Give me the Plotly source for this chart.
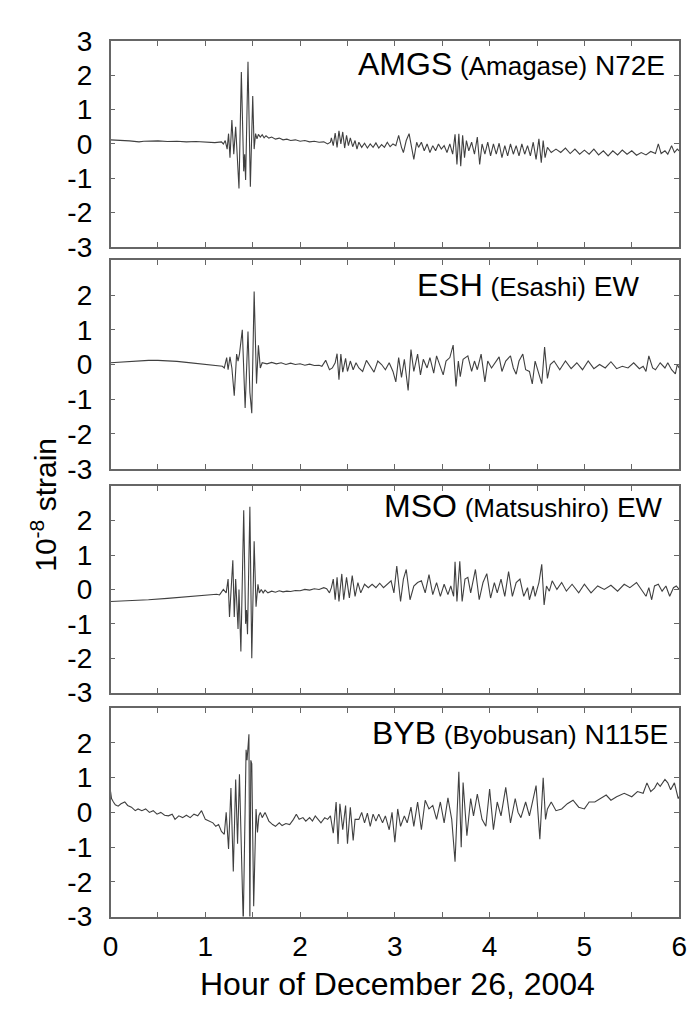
import plotly.graph_objects as go

# ---------------- data (hour, 1e-8 strain) ----------------
amgs_pts = [
    (0.0, 0.12), (0.1, 0.11), (0.2, 0.09), (0.3, 0.06), (0.35, 0.08), (0.5, 0.09), (0.6, 0.07),
    (0.7, 0.08), (0.8, 0.06), (0.9, 0.07), (1.0, 0.05), (1.1, 0.04), (1.17, 0.06), (1.19, 0.0),
    (1.21, 0.1), (1.23, -0.15), (1.245, 0.3), (1.26, -0.4), (1.28, 0.7), (1.30, -0.3), (1.32, 0.5),
    (1.355, -1.3), (1.38, 2.1), (1.405, -0.8), (1.415, -0.3), (1.425, -1.05), (1.45, 2.4),
    (1.475, -1.25), (1.50, 1.4), (1.515, -0.15), (1.53, 0.3), (1.545, 0.15), (1.56, 0.28),
    (1.58, 0.2), (1.60, 0.27), (1.62, 0.18), (1.64, 0.24), (1.67, 0.17), (1.70, 0.2), (1.74, 0.14),
    (1.78, 0.17), (1.82, 0.12), (1.86, 0.14), (1.9, 0.1), (1.95, 0.12), (2.0, 0.08), (2.05, 0.1),
    (2.1, 0.06), (2.15, 0.08), (2.2, 0.05), (2.25, 0.06), (2.29, 0.0), (2.32, 0.05),
    (2.33, 0.18), (2.35, -0.05), (2.37, 0.32), (2.39, -0.1), (2.41, 0.38), (2.43, 0.0), (2.45, 0.35),
    (2.47, -0.12), (2.49, 0.25), (2.51, -0.05), (2.53, 0.18), (2.555, -0.08), (2.58, 0.1),
    (2.60, -0.15), (2.62, 0.05), (2.65, -0.1), (2.68, 0.02), (2.71, -0.12), (2.74, 0.0), (2.77, -0.1),
    (2.80, 0.03), (2.83, -0.12), (2.86, -0.02), (2.89, -0.1), (2.92, 0.05), (2.95, -0.08), (2.98, 0.0),
    (3.01, -0.05), (3.04, 0.25), (3.07, -0.1), (3.09, -0.25), (3.12, 0.1), (3.15, 0.3), (3.18, -0.15),
    (3.20, -0.45), (3.23, 0.05), (3.25, -0.1), (3.28, 0.05), (3.31, -0.2), (3.34, 0.0), (3.37, -0.25),
    (3.40, -0.05), (3.43, -0.2), (3.46, 0.0), (3.49, -0.15), (3.52, -0.05), (3.55, -0.25), (3.58, 0.0),
    (3.61, -0.3), (3.635, 0.28), (3.655, -0.6), (3.675, 0.3), (3.695, -0.65), (3.715, 0.25),
    (3.735, -0.4), (3.755, 0.1), (3.78, -0.2), (3.81, 0.05), (3.84, -0.3), (3.87, 0.2), (3.895, -0.6),
    (3.92, 0.0), (3.95, -0.3), (3.98, 0.05), (4.01, -0.35), (4.04, 0.0), (4.07, -0.3), (4.10, 0.02),
    (4.13, -0.4), (4.16, -0.05), (4.19, -0.35), (4.22, 0.0), (4.25, -0.3), (4.28, -0.05), (4.31, -0.35),
    (4.34, 0.0), (4.37, -0.3), (4.40, -0.05), (4.43, -0.35), (4.46, 0.05), (4.49, -0.45), (4.52, 0.15),
    (4.545, -0.55), (4.565, 0.1), (4.585, -0.4), (4.61, -0.1), (4.65, -0.25), (4.70, -0.15),
    (4.75, -0.25), (4.80, -0.12), (4.85, -0.28), (4.90, -0.15), (4.95, -0.3), (5.00, -0.18),
    (5.05, -0.3), (5.10, -0.15), (5.15, -0.32), (5.20, -0.2), (5.25, -0.35), (5.30, -0.2),
    (5.35, -0.32), (5.40, -0.18), (5.45, -0.3), (5.50, -0.2), (5.55, -0.33), (5.60, -0.25),
    (5.65, -0.32), (5.70, -0.22), (5.75, -0.28), (5.78, 0.0), (5.81, -0.28), (5.85, -0.2),
    (5.88, -0.3), (5.92, -0.05), (5.95, -0.25), (5.98, -0.15), (6.0, -0.2),
]

esh_pts = [
    (0.0, 0.05), (0.1, 0.07), (0.2, 0.09), (0.3, 0.11), (0.4, 0.12), (0.5, 0.12), (0.6, 0.11),
    (0.7, 0.09), (0.8, 0.06), (0.9, 0.03), (1.0, 0.01), (1.1, -0.02), (1.18, -0.05), (1.20, -0.1),
    (1.225, 0.2), (1.24, -0.15), (1.26, 0.22), (1.28, -0.1), (1.305, -0.9), (1.33, 0.3), (1.345, 0.1),
    (1.36, 0.3), (1.39, 1.0), (1.42, -1.25), (1.45, 0.95), (1.47, -0.8), (1.49, -1.4), (1.515, 2.1),
    (1.54, -0.55), (1.56, 0.55), (1.58, -0.1), (1.60, 0.05), (1.65, 0.02), (1.70, 0.06), (1.75, 0.02),
    (1.80, 0.05), (1.85, 0.0), (1.90, 0.04), (1.95, 0.0), (2.0, 0.02), (2.05, -0.02), (2.10, 0.01),
    (2.15, -0.03), (2.20, -0.02), (2.23, -0.05), (2.27, 0.12), (2.31, -0.15), (2.34, -0.1),
    (2.37, 0.05), (2.39, 0.31), (2.41, -0.44), (2.43, 0.3), (2.45, -0.22), (2.48, 0.18), (2.50, -0.2),
    (2.53, 0.1), (2.56, -0.15), (2.59, 0.05), (2.62, -0.1), (2.66, -0.2), (2.70, 0.12), (2.74, -0.05),
    (2.78, -0.22), (2.82, 0.1), (2.86, 0.0), (2.90, -0.15), (2.94, 0.05), (2.98, -0.2), (3.01, -0.5),
    (3.04, 0.2), (3.07, -0.37), (3.10, 0.15), (3.14, -0.75), (3.17, 0.43), (3.20, -0.2), (3.24, 0.3),
    (3.27, -0.3), (3.30, 0.15), (3.34, -0.1), (3.37, 0.2), (3.41, -0.25), (3.44, 0.25), (3.48, -0.1),
    (3.51, -0.3), (3.54, 0.1), (3.58, 0.2), (3.615, 0.56), (3.645, -0.63), (3.67, 0.1), (3.69, -0.35),
    (3.72, 0.15), (3.77, 0.25), (3.81, -0.2), (3.84, 0.1), (3.87, -0.15), (3.91, 0.3), (3.95, -0.5),
    (3.98, 0.1), (4.02, -0.1), (4.06, 0.05), (4.10, 0.22), (4.13, -0.2), (4.17, 0.1), (4.22, 0.25),
    (4.25, -0.1), (4.28, -0.28), (4.31, 0.1), (4.35, 0.3), (4.38, -0.15), (4.42, -0.2), (4.45, -0.56),
    (4.48, 0.1), (4.52, -0.3), (4.55, -0.55), (4.58, 0.5), (4.61, -0.4), (4.64, 0.0), (4.68, 0.1),
    (4.74, -0.15), (4.80, 0.1), (4.86, -0.12), (4.92, 0.05), (4.98, -0.15), (5.04, 0.1), (5.10, -0.12),
    (5.16, 0.0), (5.22, -0.1), (5.28, 0.08), (5.34, -0.12), (5.40, -0.05), (5.46, -0.1), (5.52, 0.05),
    (5.58, -0.12), (5.62, -0.05), (5.65, -0.2), (5.68, 0.25), (5.72, -0.1), (5.75, -0.15), (5.80, 0.05),
    (5.85, -0.1), (5.88, 0.05), (5.92, -0.15), (5.96, -0.27), (5.98, 0.0), (6.0, -0.1),
]

mso_pts = [
    (0.0, -0.35), (0.2, -0.33), (0.4, -0.3), (0.6, -0.26), (0.8, -0.22), (1.0, -0.17), (1.12, -0.14),
    (1.15, -0.16), (1.19, 0.0), (1.22, -0.1), (1.24, 0.3), (1.255, -0.8), (1.275, 0.3), (1.29, 0.85),
    (1.305, -0.8), (1.32, 0.3), (1.345, -1.15), (1.355, 0.0), (1.375, -1.8), (1.405, 2.3),
    (1.425, -1.0), (1.435, -0.6), (1.445, -1.3), (1.47, 2.4), (1.49, -2.0), (1.515, 1.4),
    (1.535, -0.5), (1.555, 0.15), (1.57, -0.1), (1.59, 0.0), (1.61, -0.1), (1.63, -0.02), (1.66, -0.1),
    (1.70, -0.05), (1.74, -0.08), (1.78, -0.04), (1.82, -0.07), (1.86, -0.05), (1.90, -0.06),
    (1.95, -0.03), (2.00, -0.04), (2.05, 0.0), (2.10, -0.02), (2.15, 0.02), (2.20, 0.0), (2.25, 0.05),
    (2.28, 0.02), (2.31, -0.1), (2.33, 0.05), (2.35, 0.3), (2.37, -0.3), (2.39, 0.35), (2.41, -0.35),
    (2.44, 0.45), (2.46, -0.3), (2.49, 0.35), (2.52, -0.25), (2.55, 0.4), (2.58, -0.2), (2.61, 0.2),
    (2.64, -0.1), (2.68, 0.15), (2.72, 0.05), (2.76, 0.15), (2.80, 0.05), (2.84, 0.18), (2.88, 0.05),
    (2.92, 0.15), (2.96, 0.25), (2.99, -0.1), (3.02, 0.68), (3.06, -0.35), (3.09, 0.3), (3.12, 0.58),
    (3.16, -0.3), (3.20, 0.1), (3.24, 0.2), (3.28, 0.25), (3.32, -0.1), (3.36, 0.43), (3.40, -0.15),
    (3.44, 0.2), (3.48, -0.2), (3.52, 0.15), (3.56, -0.15), (3.59, 0.1), (3.62, -0.2), (3.635, 0.8),
    (3.655, -0.35), (3.685, 0.82), (3.71, -0.35), (3.74, 0.3), (3.77, 0.35), (3.80, -0.1),
    (3.85, 0.58), (3.89, -0.3), (3.93, 0.2), (3.97, 0.46), (4.01, -0.25), (4.05, 0.2), (4.08, -0.1),
    (4.12, 0.3), (4.16, -0.2), (4.20, 0.52), (4.24, -0.2), (4.28, 0.2), (4.32, 0.3), (4.36, -0.2),
    (4.40, 0.05), (4.42, -0.3), (4.46, 0.1), (4.48, -0.2), (4.52, 0.2), (4.55, 0.73), (4.575, -0.45),
    (4.60, 0.1), (4.63, -0.05), (4.66, 0.25), (4.71, 0.0), (4.76, 0.2), (4.81, -0.05), (4.87, 0.15),
    (4.94, -0.1), (5.00, 0.15), (5.07, -0.1), (5.14, 0.1), (5.21, 0.0), (5.28, 0.12), (5.35, -0.05),
    (5.42, 0.15), (5.48, 0.05), (5.55, 0.2), (5.60, 0.0), (5.65, -0.2), (5.68, 0.05), (5.71, -0.3),
    (5.74, 0.1), (5.78, 0.15), (5.82, -0.05), (5.86, 0.1), (5.90, -0.2), (5.94, 0.05), (5.97, 0.1),
    (6.0, 0.0),
]

byb_pts = [
    (0.0, 0.6), (0.01, 0.4), (0.03, 0.3), (0.05, 0.22), (0.08, 0.18), (0.11, 0.25), (0.15, 0.3),
    (0.18, 0.2), (0.22, 0.15), (0.26, 0.05), (0.29, 0.1), (0.33, 0.05), (0.37, 0.1), (0.41, 0.0),
    (0.45, 0.05), (0.49, -0.05), (0.53, 0.0), (0.57, -0.08), (0.61, -0.1), (0.65, -0.05), (0.68, -0.2),
    (0.72, -0.1), (0.76, -0.15), (0.80, -0.08), (0.84, -0.15), (0.88, -0.05), (0.92, -0.1),
    (0.96, 0.05), (1.00, -0.2), (1.04, -0.25), (1.08, -0.3), (1.11, -0.4), (1.14, -0.35),
    (1.17, -0.55), (1.20, -0.63), (1.22, 0.0), (1.245, -1.05), (1.27, 0.7), (1.295, -1.7),
    (1.32, 0.95), (1.34, -0.9), (1.36, 1.1), (1.38, -1.5), (1.40, -3.2), (1.43, 1.8), (1.44, 1.5),
    (1.46, 2.25), (1.47, -3.2), (1.48, 1.5), (1.49, 1.4), (1.51, -2.7), (1.535, 0.1), (1.55, -0.58),
    (1.565, -0.1), (1.58, 0.0), (1.60, -0.15), (1.63, 0.0), (1.67, -0.25), (1.71, -0.35),
    (1.74, -0.4), (1.78, -0.3), (1.81, -0.38), (1.85, -0.32), (1.89, -0.35), (1.93, -0.2),
    (1.96, -0.05), (1.99, -0.2), (2.03, -0.15), (2.06, -0.25), (2.10, -0.15), (2.13, -0.25),
    (2.16, -0.1), (2.19, -0.2), (2.22, -0.3), (2.26, -0.15), (2.29, -0.2), (2.32, -0.1), (2.35, -0.6),
    (2.38, 0.3), (2.40, -0.91), (2.42, 0.25), (2.45, -0.5), (2.48, 0.2), (2.50, -0.9), (2.53, 0.15),
    (2.56, -0.81), (2.58, -0.2), (2.62, -0.2), (2.65, 0.0), (2.68, -0.3), (2.71, -0.02), (2.74, -0.4),
    (2.77, -0.05), (2.80, -0.25), (2.83, -0.05), (2.87, -0.3), (2.90, -0.1), (2.94, -0.5), (2.97, 0.0),
    (3.00, -0.86), (3.03, 0.1), (3.06, -0.4), (3.10, -0.1), (3.13, -0.3), (3.17, 0.15), (3.20, -0.4),
    (3.24, 0.3), (3.28, -0.5), (3.32, 0.35), (3.36, 0.1), (3.40, 0.2), (3.44, -0.2), (3.48, 0.3),
    (3.52, -0.3), (3.56, 0.42), (3.60, -0.2), (3.635, -1.42), (3.675, 1.17), (3.70, -1.0),
    (3.72, 0.86), (3.76, -0.67), (3.80, 0.4), (3.83, -0.1), (3.87, 0.53), (3.92, -0.2), (3.96, -0.4),
    (4.00, 0.67), (4.04, -0.5), (4.08, 0.3), (4.12, -0.1), (4.17, 0.72), (4.22, -0.3), (4.27, 0.4),
    (4.30, 0.0), (4.33, -0.15), (4.38, 0.3), (4.42, -0.1), (4.46, 0.4), (4.49, 0.77), (4.53, -0.77),
    (4.565, 1.0), (4.59, -0.2), (4.61, 0.1), (4.65, 0.3), (4.70, 0.05), (4.76, 0.1), (4.82, 0.25),
    (4.88, 0.35), (4.94, 0.15), (5.00, 0.1), (5.05, 0.3), (5.11, 0.3), (5.17, 0.4), (5.23, 0.5),
    (5.28, 0.35), (5.34, 0.45), (5.42, 0.55), (5.50, 0.45), (5.56, 0.6), (5.62, 0.55), (5.66, 0.85),
    (5.70, 0.6), (5.74, 0.7), (5.77, 0.85), (5.80, 0.75), (5.85, 0.95), (5.88, 0.85), (5.91, 0.65),
    (5.95, 0.85), (5.99, 0.4), (6.0, 0.45),
]

station_codes = ["AMGS", "ESH", "MSO", "BYB"]
station_names = ["(Amagase)", "(Esashi)", "(Matsushiro)", "(Byobusan)"]
components = ["N72E", "EW", "EW", "N115E"]
series = [amgs_pts, esh_pts, mso_pts, byb_pts]

x_tick_vals = [0, 0.5, 1, 1.5, 2, 2.5, 3, 3.5, 4, 4.5, 5, 5.5, 6]
x_tick_text = ["0", "", "1", "", "2", "", "3", "", "4", "", "5", "", "6"]
y_tick_vals = [-3, -2, -1, 0, 1, 2, 3]
y_tick_text_first = ["-3", "-2", "-1", "0", "1", "2", "3"]
y_tick_text_other = ["-3", "-2", "-1", "0", "1", "2", ""]

x_title = "Hour of December 26, 2004"
y_title = "10<sup>-8</sup> strain"

# ---------------- layout geometry (pixels) ----------------
W, H = 694, 1016
left_px, right_px = 105, 687
panels_px = [(27, 239), (253, 468), (486, 699), (715, 930)]
label_pos = [(675, 51), (648, 278), (673, 506), (678, 741)]

FONT = "Liberation Sans, Arial, Helvetica, sans-serif"
frame_col = "#666666"

fig = go.Figure()
layout = dict(
    width=W, height=H, autosize=False,
    margin=dict(l=0, r=0, t=0, b=0),
    paper_bgcolor="white", plot_bgcolor="white",
    showlegend=False,
    font=dict(family=FONT, color="black"),
)

annotations = []
for i, (pts, (top, bot)) in enumerate(zip(series, panels_px)):
    n = i + 1
    xs = [p[0] for p in pts]
    ys = [p[1] for p in pts]
    fig.add_trace(go.Scatter(
        x=xs, y=ys, mode="lines",
        line=dict(color="#404040", width=1.1),
        xaxis="x" if n == 1 else f"x{n}", yaxis="y" if n == 1 else f"y{n}",
        hoverinfo="skip",
    ))
    xa = dict(
        domain=[left_px / W, right_px / W], range=[0, 6],
        anchor="y" if n == 1 else f"y{n}",
        showline=True, mirror="ticks", linecolor=frame_col, linewidth=1.5,
        ticks="inside", ticklen=5, tickwidth=1, tickcolor=frame_col,
        tickvals=x_tick_vals, ticktext=x_tick_text,
        showticklabels=(n == 4), showgrid=False, zeroline=False,
        tickfont=dict(family=FONT, size=28, color="black"),
        ticklabelstandoff=4, ticklabeloverflow="allow",
    )
    ya = dict(
        domain=[1 - bot / H, 1 - top / H], range=[-3, 3],
        anchor="x" if n == 1 else f"x{n}",
        showline=True, mirror="ticks", linecolor=frame_col, linewidth=1.5,
        ticks="inside", ticklen=5, tickwidth=1, tickcolor=frame_col,
        tickvals=y_tick_vals,
        ticktext=y_tick_text_first if n == 1 else y_tick_text_other,
        showgrid=False, zeroline=False,
        tickfont=dict(family=FONT, size=28, color="black"),
        ticklabelstandoff=11, ticklabeloverflow="allow",
    )
    layout["xaxis" if n == 1 else f"xaxis{n}"] = xa
    layout["yaxis" if n == 1 else f"yaxis{n}"] = ya

    rx, cy = label_pos[i]
    annotations.append(dict(
        xref="paper", yref="paper", x=rx / W, y=1 - cy / H,
        xanchor="right", yanchor="middle", showarrow=False,
        text=(f"<span style='font-size:32px'>{station_codes[i]}</span> "
              f"<span style='font-size:26px'>{station_names[i]}</span> "
              f"<span style='font-size:28px'>{components[i]}</span>"),
        font=dict(family=FONT, size=28, color="black"),
    ))

annotations.append(dict(
    xref="paper", yref="paper", x=399 / W, y=1 - 999 / H,
    xanchor="center", yanchor="middle", showarrow=False,
    text=x_title, font=dict(family=FONT, size=32, color="black"),
))
annotations.append(dict(
    xref="paper", yref="paper", x=36 / W, y=1 - 505 / H,
    xanchor="center", yanchor="middle", showarrow=False, textangle=-90,
    text=y_title, font=dict(family=FONT, size=30, color="black"),
))
layout["annotations"] = annotations

fig.update_layout(**layout)
fig.write_html("out.html")
